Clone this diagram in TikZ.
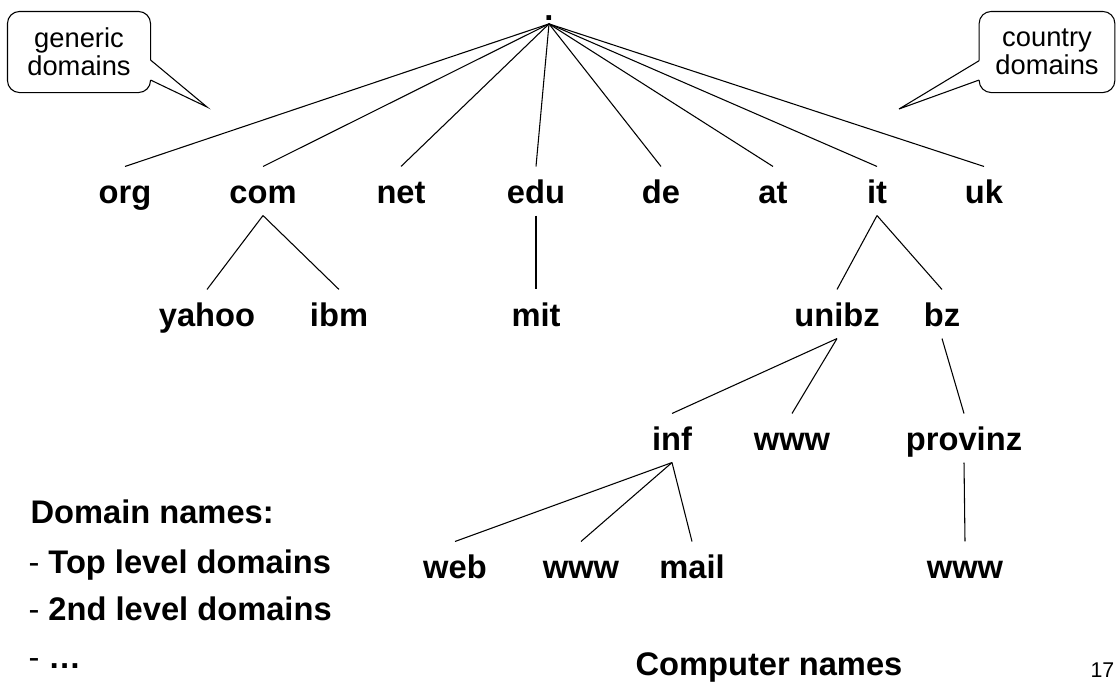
\documentclass[tikz,border=0pt]{standalone}
\usepackage{fontspec}
\setmainfont{Liberation Sans}
\begin{document}
\begin{tikzpicture}[x=0.75pt,y=-0.75pt,line width=0.8pt,
dom/.style={font=\bfseries\fontsize{24.5}{29}\selectfont,inner sep=0,text height=27pt,text depth=9pt,anchor=base},
txt/.style={font=\bfseries\fontsize{24.5}{29}\selectfont,inner sep=0,anchor=base west},
bubble/.style={font=\fontsize{20.5}{21}\selectfont,align=center,inner sep=0,minimum height=60pt}]
\useasboundingbox (0,0) rectangle (1116,683);
\node[dom,text height=5pt,text depth=2.5pt] (root) at (549,20) {.};
% top level
\foreach \n/\x in {org/125,com/263,net/401,edu/536,de/661,at/773,it/877,uk/984}
{\node[dom] (\n) at (\x,203) {\n};
\draw (root.south) -- (\n.north);
}
% 2nd level
\foreach \n/\x in {yahoo/207,ibm/339,mit/536,unibz/837,bz/942}
\node[dom] (\n) at (\x,326) {\n};
\foreach \n/\t/\x in {inf/inf/672,wwwu/www/792,provinz/provinz/964}
\node[dom] (\n) at (\x,450) {\t};
\foreach \n/\t/\x in {web/web/455,wwwi/www/581,mail/mail/692,wwwp/www/965}
\node[dom] (\n) at (\x,578) {\t};
\foreach \a/\b in {com/yahoo,com/ibm,edu/mit,it/unibz,it/bz,unibz/inf,unibz/wwwu,bz/provinz,inf/web,inf/wwwi,inf/mail,provinz/wwwp}
\draw (\a.south) -- (\b.north);
% callouts
\node[bubble,minimum width=106.5pt] (gen) at (79,52) {generic\\domains};
\coordinate (gentip) at (207,107);
\draw[rounded corners=9pt] ([yshift=-6pt]gen.east) -- (gen.north east) -- (gen.north west) -- (gen.south west) -- (gen.south east) -- ([yshift=-21pt]gen.east);
\draw ([yshift=-6pt]gen.east) -- (gentip) -- ([yshift=-21pt]gen.east);
\node[bubble,minimum width=101pt] (ctry) at (1047,52) {country\\domains};
\coordinate (ctrytip) at (899,109);
\draw[rounded corners=9pt] ([yshift=-6.5pt]ctry.west) -- (ctry.north west) -- (ctry.north east) -- (ctry.south east) -- (ctry.south west) -- ([yshift=-21pt]ctry.west);
\draw ([yshift=-6.5pt]ctry.west) -- (ctrytip) -- ([yshift=-21pt]ctry.west);
% legend
\node[txt] (dn) at (30,523) {Domain names:};
\node[txt] (tl) at (28,573) {{\mdseries -} Top level domains};
\node[txt] (sl) at (28,620) {{\mdseries -} 2nd level domains};
\node[txt] (more) at (28,668) {{\mdseries -} …};
\node[txt] (cn) at (635,675) {Computer names};
\node[anchor=base west,inner sep=0,font=\fontsize{16}{19}\selectfont] (pg) at (1090,677) {17};
\end{tikzpicture}
\end{document}
